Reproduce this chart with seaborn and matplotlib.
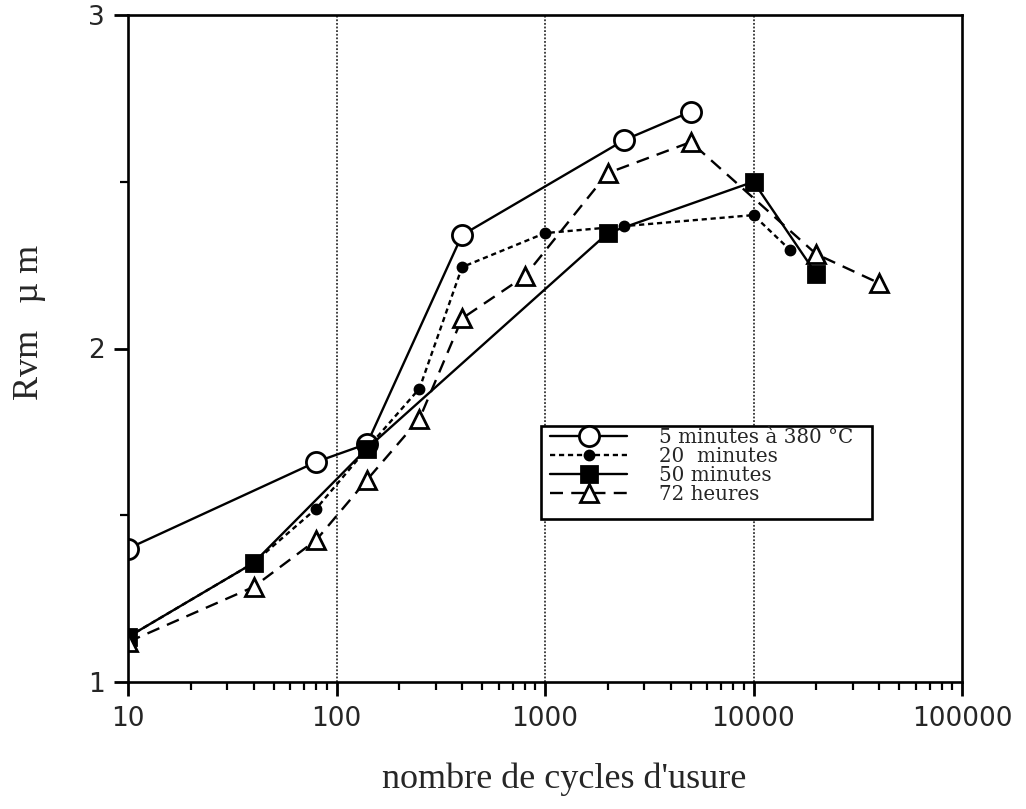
import numpy as np
import pandas as pd
import matplotlib
matplotlib.use("Agg")
import matplotlib.pyplot as plt
from matplotlib.patches import Rectangle
from matplotlib.ticker import FixedLocator, NullFormatter, FuncFormatter, LogLocator
import seaborn as sns

# Rvm roughness (µm) versus number of wear cycles, for four treatment times
cycles_5min = [10, 80, 140, 400, 2400, 5000]
rvm_5min = [1.40, 1.66, 1.714, 2.34, 2.625, 2.71]

cycles_20min = [10, 40, 80, 140, 250, 400, 1000, 2400, 10000, 15000]
rvm_20min = [1.135, 1.357, 1.52, 1.70, 1.88, 2.244, 2.346, 2.367, 2.40, 2.295]

cycles_50min = [10, 40, 140, 2000, 10000, 20000]
rvm_50min = [1.135, 1.357, 1.70, 2.346, 2.50, 2.223]

cycles_72h = [10, 40, 80, 140, 250, 400, 800, 2000, 5000, 20000, 40000]
rvm_72h = [1.12, 1.285, 1.426, 1.606, 1.789, 2.09, 2.217, 2.526, 2.619, 2.283, 2.196]

labels = ["5 minutes à 380 °C", "20  minutes", "50 minutes", "72 heures"]
x_ticks = [10, 100, 1000, 10000, 100000]
y_ticks = [1, 2, 3]

sns.set_style("white")
plt.rcParams["font.family"] = ["DejaVu Sans"]

W, H = 1026, 809
fig = plt.figure(figsize=(W / 100, H / 100), dpi=100)
ax = fig.add_axes([128 / W, 1 - 682 / H, (962 - 128) / W, (682 - 15) / H])

common = dict(ax=ax, color="black", linewidth=1.7, markeredgecolor="black",
              markeredgewidth=2, sort=False)

sns.lineplot(x=cycles_5min, y=rvm_5min, marker="o", markersize=14.5,
             markerfacecolor="white", linestyle="-", label=labels[0], **common)
sns.lineplot(x=cycles_20min, y=rvm_20min, marker="o", markersize=6.5,
             markerfacecolor="black", linestyle=(0, (2.2, 1.6)), label=labels[1], **common)
sns.lineplot(x=cycles_50min, y=rvm_50min, marker="s", markersize=11.5,
             markerfacecolor="black", linestyle="-", label=labels[2], **common)
sns.lineplot(x=cycles_72h, y=rvm_72h, marker="^", markersize=13,
             markerfacecolor="white", linestyle=(0, (5.5, 3.5)), label=labels[3], **common)

ax.set_xscale("log")
ax.set_xlim(10, 100000)
ax.set_ylim(1, 3)

# vertical dotted guides at each decade
for xv in x_ticks[1:-1]:
    ax.axvline(xv, color="#333333", linestyle=(0, (1, 1)), linewidth=1.3, zorder=0)

ax.xaxis.set_major_locator(FixedLocator(x_ticks))
ax.xaxis.set_minor_locator(LogLocator(base=10, subs=np.arange(2, 10)))
ax.xaxis.set_major_formatter(FuncFormatter(lambda v, p: f"{int(round(v))}"))
ax.xaxis.set_minor_formatter(NullFormatter())
ax.yaxis.set_major_locator(FixedLocator(y_ticks))
ax.yaxis.set_minor_locator(FixedLocator([1.5, 2.5]))
ax.yaxis.set_major_formatter(FuncFormatter(lambda v, p: f"{int(round(v))}"))

ax.tick_params(axis="both", which="major", direction="out", length=10, width=2,
               color="black", labelsize=19, pad=7, bottom=True, left=True)
ax.tick_params(axis="both", which="minor", direction="out", length=6, width=1.6,
               color="black", bottom=True, left=True)
for lab in ax.get_xticklabels() + ax.get_yticklabels():
    lab.set_fontfamily("DejaVu Sans")

for sp in ax.spines.values():
    sp.set_visible(True)
    sp.set_color("black")
    sp.set_linewidth(1.9)

ax.set_xlabel("nombre de cycles d'usure", fontsize=26, family="Liberation Serif")
ax.xaxis.set_label_coords((564 - 128) / (962 - 128), -(762 - 682) / (682 - 15))
ax.set_ylabel("Rvm   µ m", fontsize=26, family="Liberation Serif")
ax.yaxis.set_label_coords(-(128 - 46) / (962 - 128), (682 - 322) / (682 - 15))

# legend entries without their own frame; a plain box drawn behind them
leg = ax.legend(loc="upper left", bbox_to_anchor=(550 / W, 1 - 428 / H),
                bbox_transform=fig.transFigure, borderaxespad=0,
                prop={"family": "DejaVu Serif", "size": 14.3},
                handlelength=3.9, handletextpad=1.6, labelspacing=0.0,
                borderpad=0.0, frameon=False)
leg.set_zorder(6)
box = Rectangle((541 / W, 1 - 519 / H), (872 - 541) / W, (519 - 426) / H,
                transform=fig.transFigure, facecolor="white", edgecolor="black",
                linewidth=1.9, zorder=5, clip_on=False)
ax.add_patch(box)

fig.savefig("out.png", dpi=100)
